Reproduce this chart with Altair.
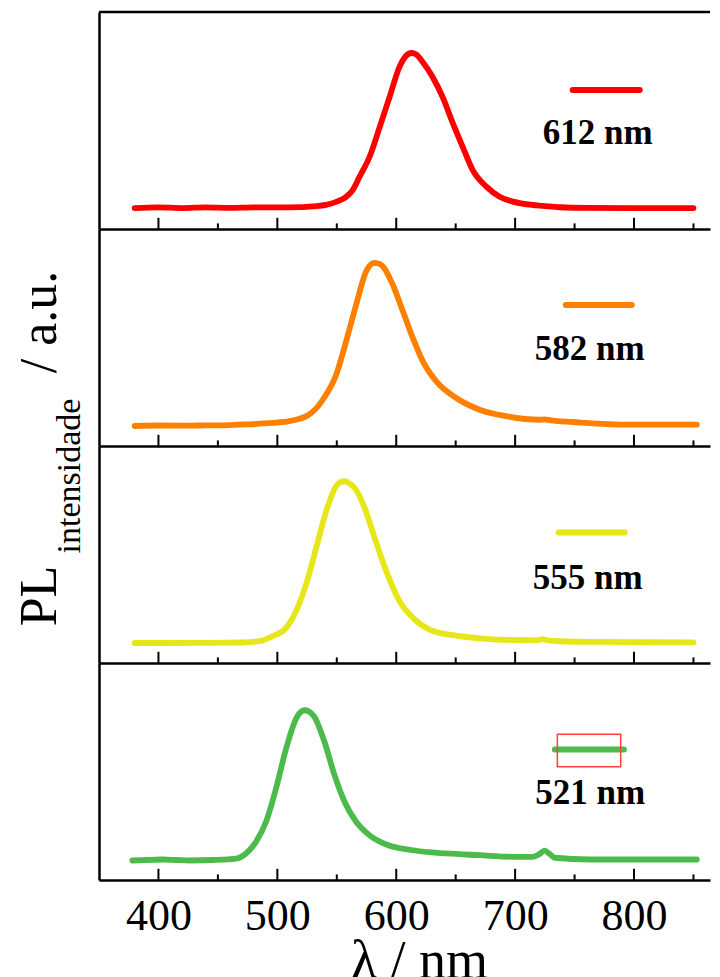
import altair as alt
import pandas as pd

# ---------------- data ----------------
wl_612 = [380, 400, 420, 440, 460, 480, 500, 520, 530, 541, 550, 558, 563.5, 569, 577.5, 586, 594.4, 602.8, 608,
          612.9, 617, 622.1, 630.6, 639, 647.4, 655.8, 664.2, 675.8, 687, 698.2, 715, 723.2, 737.5, 760, 800, 850]
pl_612 = [0.005, 0.01, 0.006, 0.01, 0.007, 0.01, 0.01, 0.012, 0.017, 0.026, 0.046, 0.077, 0.12, 0.2, 0.325, 0.51,
          0.70, 0.89, 0.955, 0.975, 0.965, 0.92, 0.825, 0.70, 0.54, 0.39, 0.245, 0.14, 0.077, 0.046, 0.025, 0.02,
          0.011, 0.007, 0.006, 0.006]

wl_582 = [380, 400, 420, 440, 460, 475, 496, 510, 518.6, 524.2, 532.7, 538.2, 549.5, 557.9, 566.3, 574.7, 578,
          581.7, 585, 588.7, 597.1, 605.6, 614, 622.4, 633.7, 650.5, 670.1, 692.6, 720.6, 725, 730, 748.7, 796.4,
          852.8]
pl_582 = [0.0, 0.003, 0.002, 0.004, 0.006, 0.01, 0.019, 0.03, 0.045, 0.06, 0.11, 0.164, 0.32, 0.53, 0.758, 0.967,
          1.005, 1.019, 1.015, 0.998, 0.883, 0.717, 0.55, 0.404, 0.279, 0.175, 0.102, 0.061, 0.039, 0.042, 0.035,
          0.025, 0.008, 0.008]

wl_555 = [380, 400, 434.4, 470, 484.9, 496.1, 507.4, 515.8, 524.2, 532.7, 541.1, 549.5, 553, 556.5, 560, 564.9,
          573.4, 581.8, 591.6, 602.8, 614, 628, 647.6, 672.9, 701, 718, 723.4, 729, 737.5, 760, 800, 850]
pl_555 = [0.0, 0.0, 0.001, 0.003, 0.011, 0.043, 0.095, 0.199, 0.366, 0.595, 0.824, 0.98, 1.005, 1.011, 1.0, 0.97,
          0.845, 0.658, 0.449, 0.261, 0.158, 0.084, 0.049, 0.028, 0.018, 0.017, 0.024, 0.015, 0.011, 0.007, 0.005,
          0.004]

wl_521 = [378, 390, 403.5, 415, 426, 445.6, 465.3, 473.7, 482.1, 490.5, 498.9, 507.4, 515.8, 519, 522.8, 526,
          531.2, 539.6, 548.1, 556.5, 566.3, 577.5, 591.6, 614, 642.1, 670.1, 698.2, 715, 720, 724.8, 729, 733.2,
          762.7, 800, 852.8]
pl_521 = [-0.003, 0.0, 0.003, 0.0, -0.003, 0.0, 0.009, 0.041, 0.114, 0.239, 0.447, 0.697, 0.884, 0.92, 0.936,
          0.93, 0.895, 0.739, 0.53, 0.364, 0.239, 0.155, 0.097, 0.061, 0.041, 0.03, 0.02, 0.02, 0.035, 0.058, 0.038,
          0.014, 0.003, 0.003, 0.003]

labels = ["612 nm", "582 nm", "555 nm", "521 nm"]
colors = ["#FF0000", "#FF8000", "#E6E619", "#4CBB4C"]
label_x = [769.5, 762.7, 761.0, 763.2]
label_y = [0.406, 0.41, 0.34, 0.353]
legend_x1 = [748.4, 742.6, 736.6, 733.4]
legend_x2 = [804.8, 798.1, 792.2, 791.5]
legend_y = [0.744, 0.756, 0.69, 0.69]
box_x = [735.5, 788.8]
box_y = [0.5825, 0.786]

major_ticks = [400, 500, 600, 700, 800]
minor_ticks = [450, 550, 650, 750, 850]
tick_labels = [400, 500, 600, 700, 800]
title_parts = ["PL", "intensidade", "/ a.u."]

# ---------------- layout ----------------
X_DOMAIN = [350, 863.9]
Y_DOMAIN = [-0.125, 1.23125]
W = 611
H = 217
FONT = "Liberation Serif"
LINE = 2.5

xs = alt.Scale(domain=X_DOMAIN, nice=False, zero=False)
ys = alt.Scale(domain=Y_DOMAIN, nice=False, zero=False)

plain_x_axis = alt.Axis(domain=True, domainColor="black", domainWidth=LINE, ticks=False, labels=False,
                        grid=False, title=None)
bottom_axis = alt.Axis(values=tick_labels, format="d", ticks=False, tickSize=0, grid=False,
                       domain=True, domainColor="black", domainWidth=LINE,
                       labelFont=FONT, labelFontSize=44, labelColor="black", labelPadding=14,
                       title="λ / nm", titleFont=FONT, titleFontSize=54, titleFontWeight="normal",
                       titleColor="black", titleBaseline="alphabetic", titleY=97, titleX=320,
                       titleAlign="center", titleAnchor="start")
y_axis = alt.Axis(domain=True, domainColor="black", domainWidth=LINE, ticks=False, labels=False,
                  grid=False, title=None)


def panel(i, wl, pl, bottom=False, box=False, ytitle=False, top=False):
    xaxis = bottom_axis if bottom else plain_x_axis
    df = pd.DataFrame({"wl": wl, "pl": pl})
    line = alt.Chart(df).mark_line(color=colors[i], strokeWidth=5.8, interpolate="monotone",
                                   strokeJoin="round", strokeCap="round").encode(
        x=alt.X("wl:Q", scale=xs, axis=xaxis),
        y=alt.Y("pl:Q", scale=ys, axis=y_axis),
    )
    tdf = pd.DataFrame({
        "wl": major_ticks + minor_ticks,
        "y0": [Y_DOMAIN[0]] * 10,
        "y1": [Y_DOMAIN[0] + 0.07] * 5 + [Y_DOMAIN[0] + 0.035] * 5,
    })
    ticks = alt.Chart(tdf).mark_rule(color="black", strokeWidth=2).encode(
        x=alt.X("wl:Q", scale=xs, axis=xaxis),
        y=alt.Y("y0:Q", scale=ys, axis=y_axis),
        y2="y1:Q",
    )
    ldf = pd.DataFrame({"x1": [legend_x1[i]], "x2": [legend_x2[i]], "y": [legend_y[i]]})
    leg = alt.Chart(ldf).mark_rule(color=colors[i], strokeWidth=6, strokeCap="round").encode(
        x=alt.X("x1:Q", scale=xs, axis=xaxis),
        x2="x2:Q",
        y=alt.Y("y:Q", scale=ys, axis=y_axis),
    )
    tx = pd.DataFrame({"x": [label_x[i]], "y": [label_y[i]], "t": [labels[i]]})
    txt = alt.Chart(tx).mark_text(font=FONT, fontSize=35, fontWeight="bold", color="black",
                                  align="center", baseline="alphabetic").encode(
        x=alt.X("x:Q", scale=xs, axis=xaxis),
        y=alt.Y("y:Q", scale=ys, axis=y_axis),
        text="t:N",
    )
    layers = [line, ticks, leg, txt]
    if top:
        fdf = pd.DataFrame({"x1": [X_DOMAIN[0]], "x2": [X_DOMAIN[1]], "y": [Y_DOMAIN[1]]})
        layers.append(alt.Chart(fdf).mark_rule(color="black", strokeWidth=LINE).encode(
            x=alt.X("x1:Q", scale=xs, axis=xaxis), x2="x2:Q",
            y=alt.Y("y:Q", scale=ys, axis=y_axis),
        ))
    if box:
        bdf = pd.DataFrame({"x1": [box_x[0]], "x2": [box_x[1]], "y1": [box_y[0]], "y2": [box_y[1]]})
        layers.append(alt.Chart(bdf).mark_rect(fillOpacity=0, stroke="#FF4040", strokeWidth=1.5).encode(
            x=alt.X("x1:Q", scale=xs, axis=xaxis), x2="x2:Q",
            y=alt.Y("y1:Q", scale=ys, axis=y_axis), y2="y2:Q",
        ))
    if ytitle:
        sizes = [52, 34, 52]
        xpos = [-43, -19, -43]
        ypos = [150, 30, -124]
        for t, s, xp, yp in zip(title_parts, sizes, xpos, ypos):
            layers.append(alt.Chart(pd.DataFrame({"t": [t]})).mark_text(
                font=FONT, fontSize=s, color="black", angle=270, align="center", baseline="alphabetic"
            ).encode(x=alt.value(xp), y=alt.value(yp), text="t:N"))
    return alt.layer(*layers).properties(width=W, height=H)


p1 = panel(0, wl_612, pl_612, top=True)
p2 = panel(1, wl_582, pl_582)
p3 = panel(2, wl_555, pl_555, ytitle=True)
p4 = panel(3, wl_521, pl_521, bottom=True, box=True)

chart = alt.vconcat(p1, p2, p3, p4, spacing=0, bounds="flush").properties(
    padding={"left": 6, "top": 2, "right": 0, "bottom": 0}
).configure(background="white").configure_view(stroke=None)

chart.save("out.html", embed_options={"renderer": "svg", "actions": False})
